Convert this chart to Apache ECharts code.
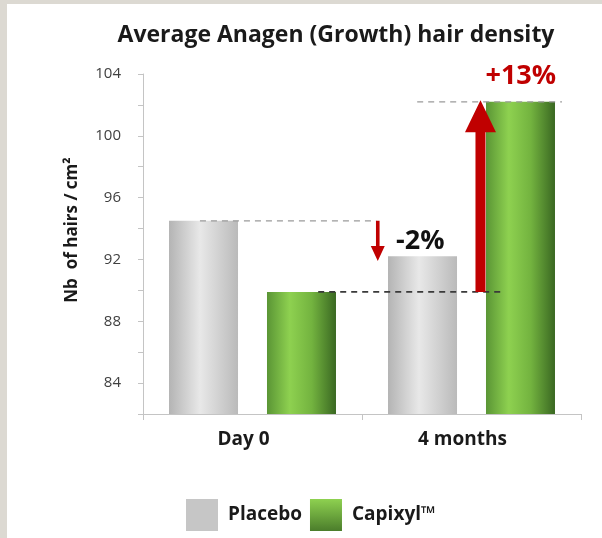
<!DOCTYPE html>
<html>
<head>
<meta charset="utf-8">
<script src="https://cdn.jsdelivr.net/npm/echarts@6/dist/echarts.min.js"></script>
<style>html,body{margin:0;padding:0;background:#dcd9d2;}#c{width:602px;height:538px;}</style>
</head>
<body>
<div id="c"></div>
<script>
// ---- data ----
var categories = ['Day 0', '4 months'];
var placebo = [94.5, 92.2];
var capixyl = [89.9, 102.2];
var yTicks = [84, 88, 92, 96, 100, 104];
// annotation lines: [fromPos, toPos, value] (pos = category index + offset)
var refLines = [[-0.24, 0.565, 94.5], [0.30, 1.142, 89.9], [0.752, 1.413, 102.2]];
// arrows: [pos, fromValue, toValue]
var arrows = [[0.572, 94.5, 91.9], [1.041, 89.9, 102.3]];
// labels: [pos, value, text]
var notes = [[0.766, 93.2, '-2%'], [1.225, 103.85, '+13%']];

var FONT = '"Open Sans", sans-serif';
var chart = echarts.init(document.getElementById('c'));

function bandX(api, pos) {
  var c0 = api.coord([0, 0])[0];
  var bw = api.size([1, 0])[0];
  return c0 + pos * bw;
}

var greyGrad = new echarts.graphic.LinearGradient(0, 0, 1, 0, [
  {offset: 0, color: '#b4b4b4'}, {offset: 0.45, color: '#e8e8e8'}, {offset: 1, color: '#bababa'}]);
var greenGrad = new echarts.graphic.LinearGradient(0, 0, 1, 0, [
  {offset: 0, color: '#5a9535'}, {offset: 0.33, color: '#8ed150'}, {offset: 0.65, color: '#73b33f'}, {offset: 1, color: '#3a6822'}]);

chart.setOption({
  backgroundColor: '#dcd9d2',
  animation: false,
  graphic: [{type: 'rect', z: -10, silent: true, shape: {x: 7, y: 4, width: 600, height: 540}, style: {fill: '#ffffff'}}],
  title: {
    text: 'Average Anagen (Growth) hair density', left: 331, top: 19, textAlign: 'center',
    textStyle: {fontFamily: FONT, fontWeight: 'bold', fontSize: 23, color: '#1a1a1a'}
  },
  legend: {
    top: 499, left: 186, itemWidth: 32, itemHeight: 32, itemGap: 8, icon: 'rect', padding: 0,
    textStyle: {fontFamily: FONT, fontWeight: 'bold', fontSize: 19, color: '#1a1a1a', padding: [9, 0, 0, 5]},
    data: [
      {name: 'Placebo', itemStyle: {color: '#c6c6c6'}},
      {name: 'Capixyl™', itemStyle: {color: new echarts.graphic.LinearGradient(0, 0, 0, 1, [{offset: 0, color: '#8ed150'}, {offset: 1, color: '#4b7d2b'}])}}
    ]
  },
  grid: {left: 143, right: 21, top: 74, bottom: 124},
  xAxis: {
    type: 'category', data: categories,
    axisLine: {lineStyle: {color: '#c4c4c4'}},
    axisTick: {show: true, length: 6, lineStyle: {color: '#c4c4c4'}},
    axisLabel: {fontFamily: FONT, fontWeight: 'bold', fontSize: 19, color: '#1a1a1a', margin: 16, padding: [0, 18, 0, 0]}
  },
  yAxis: {
    type: 'value', min: 82, max: 104, interval: 2,
    name: 'Nb  of hairs / cm²', nameLocation: 'middle', nameGap: 62, nameRotate: 90,
    nameTextStyle: {fontFamily: FONT, fontWeight: 'bold', fontSize: 17, color: '#1a1a1a', padding: [0, 0, 0, 28]},
    axisLine: {show: true, lineStyle: {color: '#c4c4c4'}},
    axisTick: {show: true, length: 5, lineStyle: {color: '#c4c4c4'}},
    splitLine: {show: false},
    axisLabel: {fontFamily: FONT, fontSize: 15, color: '#404040', margin: 22,
      formatter: function (v) { return yTicks.indexOf(v) >= 0 ? String(v) : ''; }}
  },
  series: [
    {name: 'Placebo', type: 'bar', data: placebo, barWidth: 69, barGap: '42%', itemStyle: {color: greyGrad}},
    {name: 'Capixyl™', type: 'bar', data: capixyl, barWidth: 69, itemStyle: {color: greenGrad}},
    {
      type: 'custom', z: 5, silent: true,
      data: refLines.map(function (l) { return [0, l[2]]; }),
      renderItem: function (params, api) {
        var l = refLines[params.dataIndex];
        var y = api.coord([0, l[2]])[1];
        var dark = params.dataIndex === 1;
        return {type: 'line', shape: {x1: bandX(api, l[0]), y1: y, x2: bandX(api, l[1]), y2: y},
          style: {stroke: dark ? '#3a3a3a' : '#9a9a9a', lineWidth: dark ? 1.6 : 1.3, lineDash: [6, 5]}};
      }
    },
    {
      type: 'custom', z: 6, silent: true,
      data: arrows.map(function (a) { return [0, a[2]]; }),
      renderItem: function (params, api) {
        var a = arrows[params.dataIndex];
        var x = bandX(api, a[0]);
        var y0 = api.coord([0, a[1]])[1];
        var y1 = api.coord([0, a[2]])[1];
        var big = params.dataIndex === 1;
        var sw = big ? 10 : 3.6, hw = big ? 31 : 14, hh = big ? 32 : 15;
        var dir = y1 < y0 ? 1 : -1; // 1 = up
        var yb = y1 + dir * hh;
        return {type: 'polygon', shape: {points: [
          [x - sw / 2, y0], [x - sw / 2, yb], [x - hw / 2, yb], [x, y1], [x + hw / 2, yb], [x + sw / 2, yb], [x + sw / 2, y0]
        ]}, style: {fill: '#c00000'}};
      }
    },
    {
      type: 'custom', z: 7, silent: true,
      data: notes.map(function (n) { return [0, n[1]]; }),
      renderItem: function (params, api) {
        var n = notes[params.dataIndex];
        var red = params.dataIndex === 1;
        return {type: 'text', x: bandX(api, n[0]), y: api.coord([0, n[1]])[1],
          style: {text: n[2], fill: red ? '#c00000' : '#111111', font: 'bold 27px ' + FONT,
            align: 'center', verticalAlign: 'middle'}};
      }
    }
  ]
});
</script>
</body>
</html>
